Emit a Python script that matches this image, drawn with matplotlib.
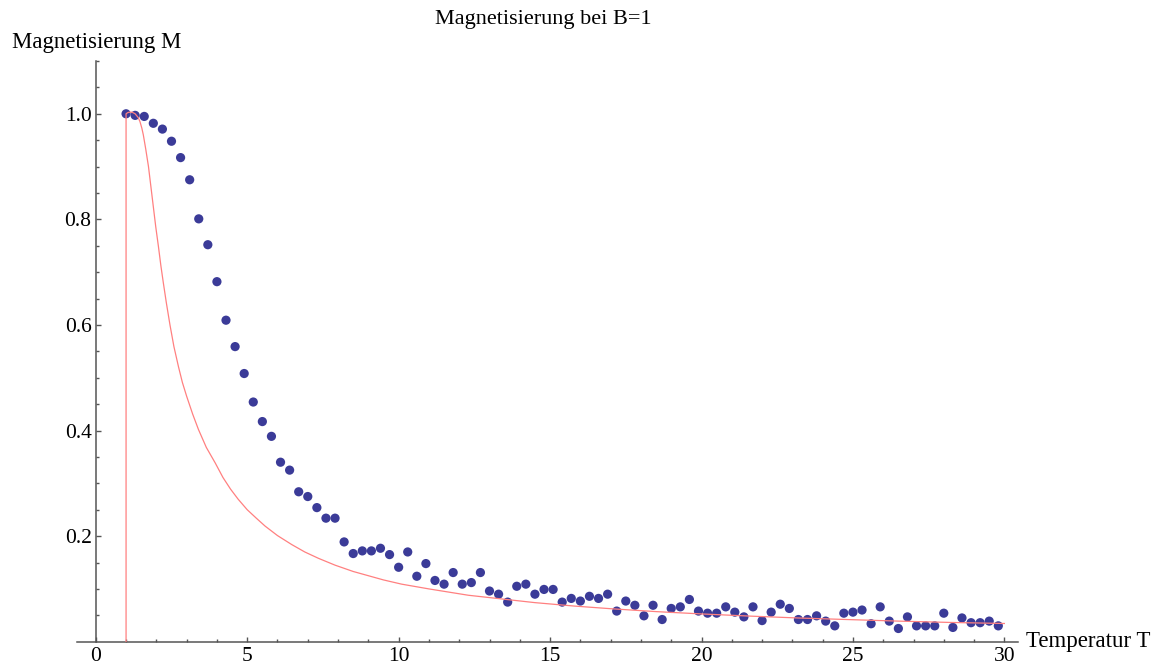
import numpy as np
import matplotlib
matplotlib.use("Agg")
import matplotlib.pyplot as plt
from matplotlib.ticker import FixedLocator

# Simulated magnetisation, temperatures 1.0 ... 29.8 in steps of 0.3
temperature = np.round(np.arange(1.0, 29.85, 0.3), 1)
magnetisation = [
    1.000, 0.997, 0.995, 0.982, 0.971, 0.948, 0.917, 0.875, 0.801, 0.752,
    0.682, 0.609, 0.559, 0.508, 0.454, 0.417, 0.389, 0.340, 0.325, 0.284,
    0.275, 0.254, 0.234, 0.234, 0.189, 0.167, 0.172, 0.172, 0.177, 0.165,
    0.141, 0.170, 0.124, 0.148, 0.116, 0.109, 0.131, 0.109, 0.112, 0.131,
    0.096, 0.090, 0.075, 0.105, 0.109, 0.090, 0.099, 0.099, 0.075, 0.082,
    0.077, 0.086, 0.082, 0.090, 0.058, 0.077, 0.069, 0.049, 0.069, 0.042,
    0.063, 0.066, 0.080, 0.058, 0.054, 0.054, 0.066, 0.056, 0.047, 0.066,
    0.040, 0.056, 0.071, 0.063, 0.042, 0.042, 0.049, 0.039, 0.030, 0.054,
    0.056, 0.060, 0.034, 0.066, 0.039, 0.025, 0.047, 0.030, 0.030, 0.030,
    0.054, 0.027, 0.045, 0.036, 0.036, 0.039, 0.030,
]

# Theoretical curve
theory_T = [1.0, 1.0, 1.05, 1.1, 1.2, 1.3, 1.4, 1.46, 1.52, 1.57, 1.65, 1.74,
            1.82, 1.90, 1.98, 2.07, 2.15, 2.23, 2.33, 2.45, 2.58, 2.73, 2.86,
            3.00, 3.20, 3.39, 3.65, 3.94, 4.20, 4.45, 4.70, 5.00, 5.30, 5.59,
            6.00, 6.47, 6.90, 7.35, 7.90, 8.50, 9.00, 9.50, 10.1, 11.0, 12.3,
            13.4, 14.5, 15.8, 17.0, 18.5, 20.0, 21.6, 23.2, 24.8, 26.5, 28.2,
            30.0]
theory_M = [0.0, 1.0, 1.002, 1.003, 1.003, 1.0, 0.993, 0.985, 0.973, 0.960,
            0.933, 0.900, 0.862, 0.824, 0.786, 0.748, 0.712, 0.680, 0.642,
            0.600, 0.559, 0.521, 0.491, 0.465, 0.431, 0.402, 0.368, 0.339,
            0.311, 0.289, 0.270, 0.250, 0.234, 0.219, 0.201, 0.184, 0.170,
            0.158, 0.145, 0.133, 0.125, 0.117, 0.109, 0.100, 0.088, 0.081,
            0.074, 0.0675, 0.0625, 0.057, 0.0526, 0.0485, 0.0449, 0.0420,
            0.039, 0.0365, 0.0345]

x_major = [0, 5, 10, 15, 20, 25, 30]
y_major = [0.2, 0.4, 0.6, 0.8, 1.0]

title_text = "Magnetisierung bei B=1"
x_label = "Temperatur T"
y_label = "Magnetisierung M"

W, H = 1158, 666
plt.rcParams["font.family"] = ["Liberation Serif", "DejaVu Serif"]
fig = plt.figure(figsize=(W / 100, H / 100), dpi=100)
ax = fig.add_axes([77 / W, 24.3 / H, (1018 - 77) / W, (641.7 - 61) / H])

axis_col = "#555555"
ax.set_xlim(-0.62, 30.45)
ax.set_ylim(0, 1.1)

ax.scatter(temperature, magnetisation, s=44, color="#3b3b98",
           edgecolors="none", zorder=3, clip_on=False)
ax.plot(theory_T, theory_M, color="#ff8080", lw=0.9, zorder=4,
        solid_joinstyle="round")

for side in ("top", "right"):
    ax.spines[side].set_visible(False)
ax.spines["left"].set_position(("data", 0))
ax.spines["bottom"].set_position(("data", 0))
for side in ("left", "bottom"):
    ax.spines[side].set_color(axis_col)
    ax.spines[side].set_linewidth(1.1)

ax.xaxis.set_major_locator(FixedLocator(x_major))
ax.xaxis.set_minor_locator(FixedLocator([v for v in range(1, 31) if v % 5]))
ax.yaxis.set_major_locator(FixedLocator(y_major))
ax.yaxis.set_minor_locator(FixedLocator(
    [round(0.05 * i, 2) for i in range(1, 23) if i % 4]))
ax.set_xticklabels([str(v) for v in x_major])
ax.set_yticklabels([f"{v:.1f}" for v in y_major])

ax.tick_params(which="both", direction="in", color=axis_col, width=1.0,
               labelsize=15.5, labelcolor="black")
ax.tick_params(which="major", length=3.5)
ax.tick_params(which="minor", length=2.2)
ax.tick_params(axis="x", which="major", pad=4)
ax.tick_params(axis="y", which="major", pad=3)

fig.text(543.5 / W, 1 - 24 / H, title_text, ha="center", va="baseline",
         fontsize=16)
fig.text(12 / W, 1 - 47.7 / H, y_label, ha="left", va="baseline",
         fontsize=16.5)
fig.text(1026 / W, 1 - 647 / H, x_label, ha="left", va="baseline",
         fontsize=16.5)

fig.savefig("out.png", dpi=100)
